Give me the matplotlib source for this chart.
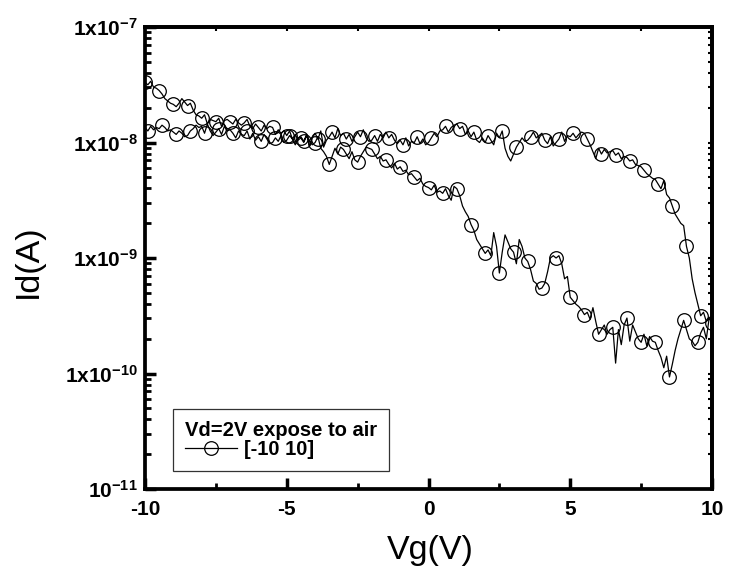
import numpy as np
import matplotlib
matplotlib.use("Agg")
import matplotlib.pyplot as plt
from matplotlib.ticker import LogLocator, MultipleLocator, NullFormatter

plt.rcParams['font.family'] = ['Liberation Sans', 'DejaVu Sans']
plt.rcParams['mathtext.fontset'] = 'custom'
plt.rcParams['mathtext.rm'] = 'Liberation Sans'
plt.rcParams['mathtext.bf'] = 'Liberation Sans:bold'

# Gate voltage sweep, 0.1 V step
vg_forward = np.round(np.arange(-10, 10.0001, 0.1), 2)
vg_reverse = vg_forward[::-1]

# log10(Id) forward sweep (-10 -> 10 V)
log_id_forward = [
    -7.48, -7.50, -7.47, -7.52, -7.53,
    -7.55, -7.58, -7.62, -7.64, -7.66,
    -7.67, -7.69, -7.66, -7.62, -7.65,
    -7.68, -7.66, -7.72, -7.76, -7.77,
    -7.79, -7.76, -7.84, -7.80, -7.81,
    -7.82, -7.79, -7.86, -7.81, -7.80,
    -7.82, -7.84, -7.80, -7.83, -7.85,
    -7.83, -7.80, -7.86, -7.88, -7.84,
    -7.87, -7.90, -7.85, -7.88, -7.86,
    -7.87, -7.93, -7.89, -7.92, -7.90,
    -7.94, -7.90, -7.97, -7.93, -7.98,
    -7.96, -8.00, -7.94, -7.99, -8.02,
    -8.00, -7.95, -8.05, -8.08, -8.12,
    -8.19, -8.12, -8.05, -8.10, -8.04,
    -8.06, -8.10, -8.14, -8.08, -8.15,
    -8.17, -8.12, -8.08, -8.04, -8.05,
    -8.06, -8.10, -8.14, -8.12, -8.16,
    -8.15, -8.19, -8.22, -8.18, -8.23,
    -8.21, -8.25, -8.24, -8.28, -8.27,
    -8.30, -8.33, -8.31, -8.36, -8.38,
    -8.39, -8.41, -8.37, -8.43, -8.42,
    -8.44, -8.40, -8.46, -8.50, -8.38,
    -8.40, -8.46, -8.55, -8.60, -8.64,
    -8.71, -8.76, -8.84, -8.88, -8.92,
    -8.96, -8.93, -8.98, -8.78, -8.90,
    -9.13, -8.95, -8.80, -8.86, -8.92,
    -8.95, -9.05, -8.84, -8.90, -9.00,
    -9.03, -9.10, -9.20, -9.22, -9.27,
    -9.26, -9.22, -9.12, -9.00, -8.98,
    -9.00, -8.98, -9.05, -9.18, -9.16,
    -9.34, -9.37, -9.40, -9.42, -9.45,
    -9.49, -9.47, -9.53, -9.43, -9.55,
    -9.66, -9.62, -9.58, -9.66, -9.62,
    -9.60, -9.91, -9.62, -9.75, -9.58,
    -9.52, -9.72, -9.58, -9.64, -9.70,
    -9.73, -9.66, -9.76, -9.68, -9.72,
    -9.73, -9.80, -9.86, -9.95, -9.85,
    -10.03, -9.92, -9.80, -9.70, -9.62,
    -9.54, -9.62, -9.70, -9.72, -9.76,
    -9.73, -9.65, -9.60, -9.70, -9.52,
    -9.56,
]

# log10(Id) reverse sweep, listed by increasing Vg (-10 -> 10 V)
log_id_reverse_by_vg = [
    -7.87, -7.90, -7.86, -7.89, -7.87,
    -7.88, -7.85, -7.87, -7.90, -7.89,
    -7.91, -7.93, -7.90, -7.92, -7.95,
    -7.94, -7.90, -7.88, -7.85, -7.87,
    -7.86, -7.92, -7.84, -7.90, -7.94,
    -7.91, -7.88, -7.93, -7.86, -7.90,
    -7.89, -7.92, -7.96, -7.90, -7.93,
    -7.94, -7.90, -7.97, -7.92, -7.98,
    -7.95, -7.99, -7.93, -7.97, -8.01,
    -8.00, -7.96, -7.99, -7.94, -8.00,
    -7.98, -7.94, -7.97, -8.02, -7.96,
    -7.95, -7.99, -7.93, -8.03, -7.96,
    -7.92, -7.97, -7.90, -8.04, -7.98,
    -7.95, -7.91, -7.96, -7.88, -7.94,
    -7.92, -7.97, -7.93, -7.99, -7.95,
    -7.91, -7.95, -7.89, -7.96, -7.99,
    -7.98, -7.94, -7.99, -7.93, -7.96,
    -7.91, -7.96, -7.93, -7.98, -8.01,
    -7.98, -8.02, -7.96, -8.03, -7.99,
    -8.00, -7.95, -8.01, -7.97, -8.02,
    -8.00, -7.96, -7.92, -7.95, -7.90,
    -7.89, -7.86, -7.91, -7.87, -7.85,
    -7.84, -7.88, -7.86, -7.93, -7.90,
    -7.95, -7.91, -7.98, -8.00, -7.96,
    -8.00, -7.94, -7.98, -8.02, -7.92,
    -7.96, -7.90, -8.05, -8.12, -8.16,
    -8.10, -8.04, -8.00, -7.96, -7.99,
    -7.98, -7.95, -7.91, -7.96, -7.94,
    -7.92, -7.98, -8.01, -7.95, -8.03,
    -8.00, -7.97, -7.91, -7.99, -7.94,
    -7.95, -7.92, -7.96, -7.93, -7.91,
    -7.92, -7.97, -8.02, -8.08, -8.14,
    -8.05, -8.10, -8.06, -8.09, -8.08,
    -8.07, -8.11, -8.09, -8.14, -8.12,
    -8.13, -8.16, -8.15, -8.19, -8.20,
    -8.21, -8.24, -8.27, -8.29, -8.31,
    -8.32, -8.36, -8.40, -8.33, -8.45,
    -8.48, -8.55, -8.62, -8.66, -8.70,
    -8.72, -8.90, -9.00, -9.18, -9.30,
    -9.40, -9.50, -9.47, -9.55, -9.52,
    -9.54,
]

legend_title = "Vd=2V expose to air"
series_label = "[-10 10]"
xticks = [-10, -5, 0, 5, 10]
yticks = [1e-11, 1e-10, 1e-9, 1e-8, 1e-7]
ytick_labels = [r'$\mathbf{10^{-11}}$', r'$\mathbf{1x10^{-10}}$', r'$\mathbf{1x10^{-9}}$',
                r'$\mathbf{1x10^{-8}}$', r'$\mathbf{1x10^{-7}}$']

vg_all = np.concatenate([vg_forward, vg_reverse])
id_all = 10.0 ** np.concatenate([np.array(log_id_forward), np.array(log_id_reverse_by_vg)[::-1]])

fig = plt.figure(figsize=(7.30, 5.81), dpi=100)
ax = fig.add_axes([145/730, 1-489/581, (712-145)/730, (489-27)/581])

ax.plot(vg_all, id_all, color='black', lw=0.9, marker='o', markersize=9.8,
        markerfacecolor='none', markeredgecolor='black', markeredgewidth=0.9,
        markevery=5, label=series_label)

ax.set_yscale('log')
ax.set_xlim(-10, 10)
ax.set_ylim(1e-11, 1e-7)
ax.set_xticks(xticks)
ax.set_xticklabels([str(t) for t in xticks], fontweight='bold', fontsize=15)
ax.xaxis.set_minor_locator(MultipleLocator(2.5))
ax.set_yticks(yticks)
ax.set_yticklabels(ytick_labels, fontsize=15)
ax.yaxis.set_minor_locator(LogLocator(base=10, subs=np.arange(2, 10)))
ax.yaxis.set_minor_formatter(NullFormatter())

for s in ax.spines.values():
    s.set_linewidth(2.7)
ax.tick_params(which='major', direction='in', length=8, width=2.5, pad=8)
ax.tick_params(axis='y', which='major', pad=5)
ax.tick_params(which='minor', direction='in', length=4, width=2.0)

# short inward ticks on the top and right frame
secx = ax.secondary_xaxis('top')
secx.set_xticks(xticks)
secx.xaxis.set_minor_locator(MultipleLocator(2.5))
secx.tick_params(which='both', direction='in', length=3, width=1.5, labeltop=False)
secx.spines['top'].set_linewidth(2.7)
secy = ax.secondary_yaxis('right')
secy.set_yticks(yticks)
secy.yaxis.set_minor_locator(LogLocator(base=10, subs=np.arange(2, 10)))
secy.yaxis.set_minor_formatter(NullFormatter())
secy.tick_params(which='both', direction='in', length=3, width=1.5, labelright=False)
secy.spines['right'].set_linewidth(2.7)

ax.set_xlabel("Vg(V)", fontsize=24.5)
ax.set_ylabel("Id(A)", fontsize=24.5)
ax.xaxis.set_label_coords((430-145)/567, (489-535)/462)
ax.yaxis.set_label_coords((44-145)/567, (489-261)/462)

leg = ax.legend(loc='lower left', bbox_to_anchor=((173-145)/567, (489-471)/462),
                borderaxespad=0, title=legend_title, fancybox=False, frameon=True,
                edgecolor='black', numpoints=1, handlelength=2.6, handletextpad=0.35,
                prop={'weight': 'bold', 'size': 14.5}, borderpad=0.6, labelspacing=0.0,
                alignment='left')
leg.get_title().set_fontweight('bold')
leg.get_title().set_fontsize(14.5)
leg.get_frame().set_linewidth(0.9)

fig.savefig("out.png", dpi=100)
